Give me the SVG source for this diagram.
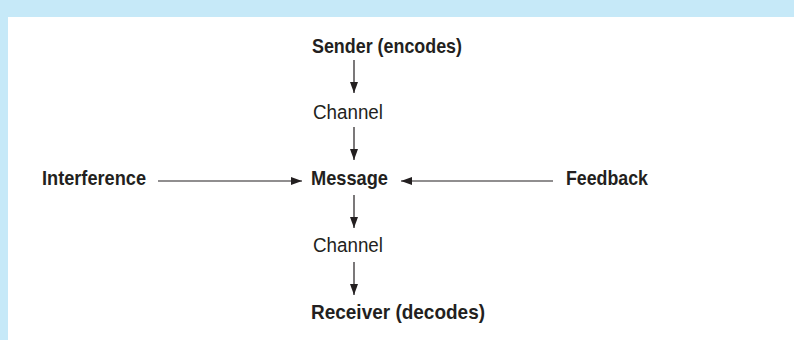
<svg xmlns="http://www.w3.org/2000/svg" width="794" height="340" viewBox="0 0 794 340">
  <style>
    .lbl { font-family: "Liberation Sans", Arial, sans-serif; fill: #231f20; }
    .b { font-weight: bold; font-size: 21px; }
    .r { font-weight: normal; font-size: 19.5px; }
    .link { stroke: #231f20; stroke-width: 1.2; fill: none; marker-end: url(#head); }
  </style>
  <defs>
    <marker id="head" viewBox="0 0 11 8" refX="11" refY="4" markerWidth="11" markerHeight="8" markerUnits="userSpaceOnUse" orient="auto">
      <path d="M0,0 L11,4 L0,8 Z" fill="#231f20"/>
    </marker>
  </defs>

  <!-- frame -->
  <rect x="0" y="0" width="794" height="340" fill="#c6e9f8"/>
  <rect x="8" y="17" width="786" height="323" fill="#ffffff"/>

  <g id="sender"><text class="lbl b" x="312" y="53" textLength="150" lengthAdjust="spacingAndGlyphs">Sender (encodes)</text></g>
  <g id="channel-top"><text class="lbl r" x="313" y="119" textLength="70" lengthAdjust="spacingAndGlyphs">Channel</text></g>
  <g id="message"><text class="lbl b" x="311" y="185" textLength="77" lengthAdjust="spacingAndGlyphs">Message</text></g>
  <g id="channel-bottom"><text class="lbl r" x="313" y="252" textLength="70" lengthAdjust="spacingAndGlyphs">Channel</text></g>
  <g id="receiver"><text class="lbl b" x="311" y="319" textLength="174" lengthAdjust="spacingAndGlyphs">Receiver (decodes)</text></g>
  <g id="interference"><text class="lbl b" x="42" y="185" textLength="104" lengthAdjust="spacingAndGlyphs">Interference</text></g>
  <g id="feedback"><text class="lbl b" x="566" y="185" textLength="82" lengthAdjust="spacingAndGlyphs">Feedback</text></g>

  <g id="connectors">
    <line class="link" x1="354" y1="60" x2="354" y2="93"/>
    <line class="link" x1="354" y1="127" x2="354" y2="160"/>
    <line class="link" x1="354" y1="195" x2="354" y2="228"/>
    <line class="link" x1="354" y1="262" x2="354" y2="295"/>
    <line class="link" x1="158" y1="181" x2="302" y2="181"/>
    <line class="link" x1="553" y1="181" x2="401" y2="181"/>
  </g>
</svg>
